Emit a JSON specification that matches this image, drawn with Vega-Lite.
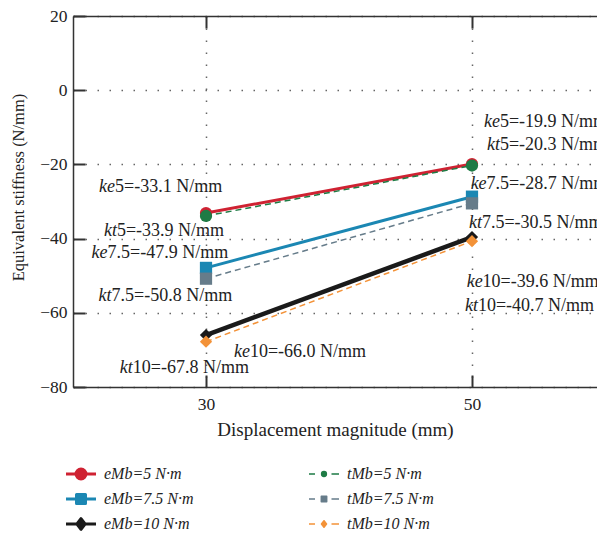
{
  "$schema": "https://vega.github.io/schema/vega-lite/v6.json",
  "width": 524,
  "height": 371,
  "autosize": {"type": "none"},
  "padding": {"left": 73, "top": 16, "right": 0, "bottom": 151},
  "background": "white",
  "config": {
    "view": {"stroke": null},
    "font": "Liberation Serif",
    "axis": {
      "labelFont": "Liberation Serif",
      "titleFont": "Liberation Serif",
      "labelFontSize": 17.5,
      "titleFontSize": 19,
      "titleFontWeight": "normal",
      "labelColor": "#222",
      "titleColor": "#222",
      "domainColor": "#333",
      "domainWidth": 1.5,
      "tickColor": "#333",
      "tickWidth": 2,
      "tickSize": -12,
      "gridColor": "#666",
      "gridWidth": 1.5,
      "gridDash": [1.5, 10.5]
    }
  },
  "datasets": {
    "lines": [
      {"x": 30, "y": -33.1, "series": "eMb=5 N·m"},
      {"x": 50, "y": -19.9, "series": "eMb=5 N·m"},
      {"x": 30, "y": -47.9, "series": "eMb=7.5 N·m"},
      {"x": 50, "y": -28.7, "series": "eMb=7.5 N·m"},
      {"x": 30, "y": -66.0, "series": "eMb=10 N·m"},
      {"x": 50, "y": -39.6, "series": "eMb=10 N·m"},
      {"x": 30, "y": -33.9, "series": "tMb=5 N·m"},
      {"x": 50, "y": -20.3, "series": "tMb=5 N·m"},
      {"x": 30, "y": -50.8, "series": "tMb=7.5 N·m"},
      {"x": 50, "y": -30.5, "series": "tMb=7.5 N·m"},
      {"x": 30, "y": -67.8, "series": "tMb=10 N·m"},
      {"x": 50, "y": -40.7, "series": "tMb=10 N·m"}
    ],
    "notes": [
      {"x": 23.16, "y": -26.1, "pre": "ke", "rest": "5=-33.1 N/mm"},
      {"x": 23.3, "y": -37.9, "pre": "kt", "rest": "5=-33.9 N/mm"},
      {"x": 22.6, "y": -44.0, "pre": "ke", "rest": "7.5=-47.9 N/mm"},
      {"x": 22.9, "y": -55.4, "pre": "kt", "rest": "7.5=-50.8 N/mm"},
      {"x": 33.3, "y": -70.5, "pre": "ke", "rest": "10=-66.0 N/mm"},
      {"x": 24.5, "y": -75.0, "pre": "kt", "rest": "10=-67.8 N/mm"},
      {"x": 52.1, "y": -8.5, "pre": "ke", "rest": "5=-19.9 N/mm"},
      {"x": 52.1, "y": -14.8, "pre": "kt", "rest": "5=-20.3 N/mm"},
      {"x": 51.1, "y": -25.2, "pre": "ke", "rest": "7.5=-28.7 N/mm"},
      {"x": 50.75, "y": -35.9, "pre": "kt", "rest": "7.5=-30.5 N/mm"},
      {"x": 50.8, "y": -51.7, "pre": "ke", "rest": "10=-39.6 N/mm"},
      {"x": 50.45, "y": -58.2, "pre": "kt", "rest": "10=-40.7 N/mm"}
    ]
  },
  "resolve": {"axis": {"x": "independent"}, "scale": {"color": "independent"}},
  "layer": [
    {
      "data": {"name": "lines"},
      "transform": [{"filter": "datum.series == 'eMb=5 N·m' || datum.series == 'eMb=7.5 N·m'"}],
      "mark": {"type": "line", "strokeWidth": 3},
      "encoding": {
        "x": {
          "field": "x", "type": "quantitative",
          "scale": {"domain": [20, 59.4], "nice": false, "zero": false},
          "axis": {"values": [30, 50], "title": "Displacement magnitude (mm)", "labelPadding": 20, "titlePadding": 8, "grid": true}
        },
        "y": {
          "field": "y", "type": "quantitative",
          "scale": {"domain": [-80, 20], "nice": false, "zero": false},
          "axis": {"values": [-80, -60, -40, -20, 0, 20], "title": "Equivalent stiffness (N/mm)", "titleFontSize": 16.5, "titleX": -55, "titleY": 171, "titleAlign": "center", "titleBaseline": "middle", "labelPadding": 18, "grid": true}
        },
        "color": {
          "field": "series", "type": "nominal",
          "scale": {
            "domain": ["eMb=5 N·m", "eMb=7.5 N·m", "eMb=10 N·m", "tMb=5 N·m", "tMb=7.5 N·m", "tMb=10 N·m"],
            "range": ["#CF2232", "#1B87B3", "#1a1a1a", "#1E7B45", "#667C8A", "#F39238"]
          },
          "legend": {
            "orient": "none", "legendX": 0, "legendY": 450,
            "direction": "vertical",
            "columns": 2, "columnPadding": 114, "rowPadding": 9,
            "title": null,
            "symbolSize": 900,
            "symbolType": "circle",
            "labelFont": "Liberation Serif", "labelFontStyle": "italic", "labelFontSize": 16,
            "labelOffset": 15, "labelColor": "#222",
            "encode": {
              "symbols": {
                "update": {
                  "shape": {"signal": "['M-1,0H1M-0.33,0A0.33,0.33 0 1,0 0.33,0A0.33,0.33 0 1,0 -0.33,0Z', 'M-1,0H1M-0.3,-0.3H0.3V0.3H-0.3Z', 'M-1,0H1M0,-0.36L0.27,0L0,0.36L-0.27,0Z', 'M-1,0H-0.6M0.5,0H1M-0.16,0A0.16,0.16 0 1,0 0.16,0A0.16,0.16 0 1,0 -0.16,0Z', 'M-1,0H-0.6M0.5,0H1M-0.18,-0.18H0.18V0.18H-0.18Z', 'M-1,0H-0.6M0.5,0H1M0,-0.22L0.17,0L0,0.22L-0.17,0Z'][datum.index]"},
                  "fill": {"signal": "['#CF2232', '#1B87B3', '#1a1a1a', '#1E7B45', '#667C8A', '#F39238'][datum.index]"},
                  "stroke": {"signal": "['#CF2232', '#1B87B3', '#1a1a1a', '#1E7B45', '#667C8A', '#F39238'][datum.index]"},
                  "strokeWidth": {"signal": "datum.index < 3 ? 3 : 1.5"},
                  "strokeJoin": {"value": "round"},
                  "fillOpacity": {"value": 1},
                  "opacity": {"value": 1}
                }
              }
            }
          }
        }
      }
    },
    {
      "data": {"name": "lines"},
      "transform": [{"filter": "datum.series == 'eMb=10 N·m'"}],
      "mark": {"type": "line", "strokeWidth": 4.5, "color": "#1a1a1a"},
      "encoding": {
        "x": {"field": "x", "type": "quantitative", "axis": null},
        "y": {"field": "y", "type": "quantitative"}
      }
    },
    {
      "data": {"name": "lines"},
      "transform": [{"filter": "indexof(datum.series, 'tMb') == 0"}],
      "mark": {"type": "line", "strokeWidth": 1.5, "strokeDash": [6, 4]},
      "encoding": {
        "x": {"field": "x", "type": "quantitative", "axis": null},
        "y": {"field": "y", "type": "quantitative"},
        "color": {
          "field": "series", "type": "nominal",
          "scale": {
            "domain": ["tMb=5 N·m", "tMb=7.5 N·m", "tMb=10 N·m"],
            "range": ["#1E7B45", "#667C8A", "#F39238"]
          },
          "legend": null
        }
      }
    },
    {
      "data": {"name": "lines"},
      "mark": {"type": "point", "filled": true, "opacity": 1},
      "encoding": {
        "x": {
          "field": "x", "type": "quantitative",
          "axis": {"orient": "top", "values": [30, 50], "labels": false, "title": null, "grid": false, "tickSize": -12}
        },
        "y": {"field": "y", "type": "quantitative"},
        "color": {
          "field": "series", "type": "nominal",
          "scale": {
            "domain": ["eMb=5 N·m", "eMb=7.5 N·m", "eMb=10 N·m", "tMb=5 N·m", "tMb=7.5 N·m", "tMb=10 N·m"],
            "range": ["#CF2232", "#1B87B3", "#1a1a1a", "#1E7B45", "#667C8A", "#F39238"]
          },
          "legend": null
        },
        "shape": {
          "field": "series", "type": "nominal",
          "scale": {
            "domain": ["eMb=5 N·m", "eMb=7.5 N·m", "eMb=10 N·m", "tMb=5 N·m", "tMb=7.5 N·m", "tMb=10 N·m"],
            "range": ["circle", "square", "diamond", "circle", "square", "diamond"]
          },
          "legend": null
        },
        "size": {
          "field": "series", "type": "nominal",
          "scale": {
            "domain": ["eMb=5 N·m", "eMb=7.5 N·m", "eMb=10 N·m", "tMb=5 N·m", "tMb=7.5 N·m", "tMb=10 N·m"],
            "range": [150, 150, 130, 40, 60, 45]
          },
          "legend": null
        }
      }
    },
    {
      "data": {"name": "notes"},
      "mark": {"type": "text", "align": "right", "baseline": "middle", "font": "Liberation Serif", "fontStyle": "italic", "fontSize": 18, "color": "#222"},
      "encoding": {
        "x": {"field": "x", "type": "quantitative", "axis": null},
        "y": {"field": "y", "type": "quantitative"},
        "text": {"field": "pre"}
      }
    },
    {
      "data": {"name": "notes"},
      "mark": {"type": "text", "align": "left", "baseline": "middle", "font": "Liberation Serif", "fontSize": 18, "color": "#222"},
      "encoding": {
        "x": {"field": "x", "type": "quantitative", "axis": null},
        "y": {"field": "y", "type": "quantitative"},
        "text": {"field": "rest"}
      }
    }
  ]
}
